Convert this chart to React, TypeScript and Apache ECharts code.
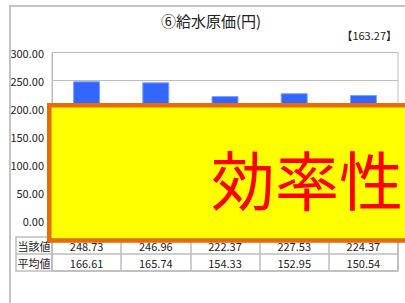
import React, { useEffect, useRef } from "react";
import * as echarts from "echarts";

const categories = ["H29", "H30", "R01", "R02", "R03"];
const currentValues = [248.73, 246.96, 222.37, 227.53, 224.37];
const averageValues = [166.61, 165.74, 154.33, 152.95, 150.54];
const rowLabels = ["当該値", "平均値"];
const titleText = "⑥給水原価(円)";
const refText = "【163.27】";
const overlayText = "効率性";

const FONT = "'Noto Sans CJK JP', 'Noto Sans', sans-serif";
const GRAY = "#BDBDBD";

export default function App() {
  const ref = useRef<HTMLDivElement>(null);
  useEffect(() => {
    if (!ref.current) return;
    const chart = echarts.init(ref.current, undefined, { renderer: "svg" });
    chart.setOption({
      animation: false,
      backgroundColor: "#FFFFFF",
      textStyle: { fontFamily: FONT },
      grid: [
        { left: 52, right: 7, top: 52.5, bottom: 82, show: true, borderColor: GRAY, borderWidth: 1 },
        { left: 52, right: 7, top: 237, height: 34, show: true, borderColor: GRAY, borderWidth: 1.5 },
      ],
      xAxis: [
        {
          type: "category",
          gridIndex: 0,
          data: categories,
          axisLine: { show: true, lineStyle: { color: GRAY } },
          axisTick: { show: false },
          axisLabel: { show: false },
        },
        {
          type: "category",
          gridIndex: 1,
          position: "bottom",
          data: averageValues.map((v) => v.toFixed(2)),
          axisLine: { show: false },
          axisTick: { show: false },
          splitLine: { show: true, lineStyle: { color: GRAY, width: 1.5 } },
          axisLabel: { inside: true, margin: 3, color: "#222", fontSize: 11, fontFamily: FONT },
        },
        {
          type: "category",
          gridIndex: 1,
          position: "bottom",
          data: currentValues.map((v) => v.toFixed(2)),
          axisLine: { show: false },
          axisTick: { show: false },
          splitLine: { show: false },
          axisLabel: { inside: true, margin: 20, color: "#222", fontSize: 11, fontFamily: FONT },
        },
      ],
      yAxis: [
        {
          type: "value",
          gridIndex: 0,
          min: 0,
          max: 300,
          interval: 50,
          axisLine: { show: true, lineStyle: { color: GRAY } },
          axisTick: { show: false },
          splitLine: { show: true, lineStyle: { color: GRAY, width: 1 } },
          axisLabel: {
            color: "#222",
            fontSize: 11,
            margin: 8,
            fontFamily: FONT,
            formatter: (v: number) => v.toFixed(2),
          },
        },
        {
          type: "value",
          gridIndex: 1,
          min: 0,
          max: 2,
          interval: 1,
          axisLine: { show: false },
          axisTick: { show: false },
          axisLabel: { show: false },
          splitLine: { show: true, lineStyle: { color: GRAY, width: 1.5 } },
        },
      ],
      series: [
        {
          type: "bar",
          xAxisIndex: 0,
          yAxisIndex: 0,
          data: currentValues,
          barWidth: "39%",
          itemStyle: { color: "#3366FF", borderColor: "#7FA0FF", borderWidth: 1 },
        },
      ],
      graphic: [
        {
          type: "polyline",
          shape: { points: [[10, 303], [10, 6], [405, 6]] },
          style: { stroke: "#C4C4C4", lineWidth: 2, fill: "none" },
          z: 1,
        },
        {
          type: "text",
          x: 211,
          y: 20,
          style: { text: titleText, fontSize: 15, fontFamily: FONT, fill: "#222", textAlign: "center", textVerticalAlign: "middle" },
        },
        {
          type: "text",
          x: 397,
          y: 35,
          style: { text: refText, fontSize: 11, fontFamily: FONT, fill: "#222", textAlign: "right", textVerticalAlign: "middle" },
        },
        {
          type: "rect",
          shape: { x: 16, y: 237, width: 36, height: 34 },
          style: { fill: "none", stroke: GRAY, lineWidth: 1.5 },
        },
        {
          type: "line",
          shape: { x1: 16, y1: 254, x2: 52, y2: 254 },
          style: { stroke: GRAY, lineWidth: 1.5 },
        },
        {
          type: "text",
          x: 34,
          y: 246,
          style: { text: rowLabels[0], fontSize: 11, fontFamily: FONT, fill: "#222", textAlign: "center", textVerticalAlign: "middle" },
        },
        {
          type: "text",
          x: 34,
          y: 263,
          style: { text: rowLabels[1], fontSize: 11, fontFamily: FONT, fill: "#222", textAlign: "center", textVerticalAlign: "middle" },
        },
        {
          type: "rect",
          z: 100,
          shape: { x: 49.25, y: 105.25, width: 400, height: 135.25 },
          style: { fill: "#FFFF00", stroke: "#E46C0A", lineWidth: 4.5 },
        },
        {
          type: "text",
          z: 101,
          x: 211,
          y: 177,
          style: {
            text: overlayText,
            fontSize: 64,
            fontFamily: FONT,
            fill: "#FF0000",
            textAlign: "left",
            textVerticalAlign: "middle",
          },
        },
      ],
    });
    return () => chart.dispose();
  }, []);
  return (
    <div
      ref={ref}
      style={{ position: "fixed", left: 0, top: 0, width: 405, height: 303 }}
    />
  );
}
